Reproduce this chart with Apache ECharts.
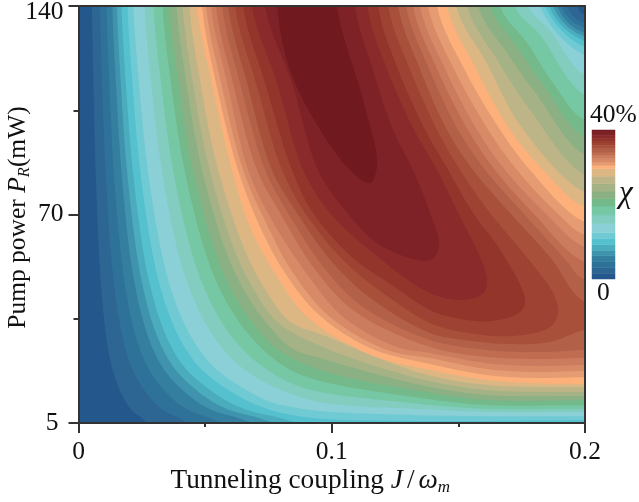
<!DOCTYPE html>
<html><head><meta charset="utf-8">
<style>html,body{margin:0;padding:0;background:#fff}#c{width:639px;height:502px}</style>
<script src="https://cdn.jsdelivr.net/npm/echarts@6/dist/echarts.min.js"></script>
</head><body><div id="c"></div>
<script>
const xTicks = {0: '0', 0.1: '0.1', 0.2: '0.2'};
const yTicks = {0: '{low|5}', 70: '70', 140: '{high|140}'};
const baseColor = '#24578c';
const bandColors = ['#24578c','#2d6593','#2f7299','#347f9f','#3f93ad','#4aacbd','#55c1cf','#6fcad3','#8bd0d6','#82cdc0','#76c8a5','#74b98a','#8ab083','#a5b285','#bdb588','#dcb683','#fdb07a','#e59c72','#d88a66','#cc7c5e','#bf6c51','#b26048','#a8503a','#9e4233','#94352b','#8a2a2a','#7f2227','#701a1f'];
const bandStarts = [0,1.5,3,4.6,6.2,7.7,9.2,10.8,12.4,14.8,17.2,19.6,21.6,23.6,25.6,27.6,29.6,30.5,31.4,32.3,33.2,34.1,35,35.9,36.8,37.7,38.6,39.5];
// iso-chi contours: [J/omega, pump power axis position]
const c1 = [[.0053,140],[.0059,114],[.0067,86],[.008,58],[.009,45],[.0102,34],[.0116,25],[.0134,18],[.0158,12],[.0187,7],[.0213,4],[.0245,2],[.0272,0],[.032,-3],[.036,-20],[.24,-20],[.24,137],[.2,137],[.1969,140]];
const c2 = [[.0085,140],[.0093,114],[.0106,86],[.0127,58],[.0143,45],[.0162,34],[.0185,25],[.0213,18],[.0252,12],[.0297,7],[.034,4],[.0391,2],[.0433,0],[.0509,-3],[.056,-20],[.24,-20],[.24,134.3],[.2,134.3],[.1929,140]];
const c3 = [[.0111,140],[.0122,114],[.0138,86],[.0166,58],[.0186,45],[.0211,34],[.0241,25],[.0278,18],[.0328,12],[.0387,7],[.0442,4],[.0509,2],[.0564,0],[.0664,-3],[.072,-20],[.24,-20],[.24,132.6],[.2,132.6],[.1906,140]];
const c4 = [[.0134,140],[.0148,114],[.0168,86],[.0201,58],[.0226,45],[.0256,34],[.0293,25],[.0337,18],[.0399,12],[.047,7],[.0537,4],[.0618,2],[.0685,0],[.0806,-3],[.088,-20],[.24,-20],[.24,130.9],[.2,130.9],[.189,140]];
const c5 = [[.0152,140],[.0167,114],[.019,86],[.0228,58],[.0256,45],[.029,34],[.0332,25],[.0382,18],[.0452,12],[.0532,7],[.0608,4],[.07,2],[.0776,0],[.0913,-3],[.1,-20],[.24,-20],[.24,129.6],[.2,129.6],[.1874,140]];
const c6 = [[.017,140],[.0187,114],[.0213,86],[.0255,58],[.0286,45],[.0324,34],[.037,25],[.0426,18],[.0505,12],[.0595,7],[.068,4],[.0782,2],[.0866,0],[.1019,-3],[.11,-20],[.24,-20],[.24,128.2],[.2,128.2],[.1858,140]];
const c7 = [[.0194,140],[.0213,114],[.0242,86],[.029,58],[.0325,45],[.0369,34],[.0422,25],[.0486,18],[.0575,12],[.0678,7],[.0774,4],[.0891,2],[.1,1.2],[.12,.8],[.16,.7],[.2,1],[.22,1],[.22,126.2],[.2,126.2],[.1843,140]];
const c8 = [[.0217,140],[.0239,114],[.0272,86],[.0326,58],[.0365,45],[.0414,34],[.0474,25],[.0545,18],[.0645,12],[.0761,7],[.0869,5],[.0954,4],[.127,2.8],[.1613,2.3],[.2,2.3],[.22,2.3],[.22,123.5],[.2,123.5],[.1823,140]];
const c9 = [[.0261,140],[.0287,114],[.0327,86],[.0391,58],[.0439,45],[.0498,34],[.0569,25],[.0655,18],[.0775,12],[.0954,7],[.1349,4.7],[.1613,3.7],[.2,3.7],[.22,3.7],[.22,116.8],[.2,116.8],[.1862,131.9],[.1776,140]];
const c10 = [[.0296,140],[.0326,114],[.0371,86],[.0444,58],[.0498,45],[.0564,34],[.0645,25],[.0743,18],[.085,13],[.0954,10.4],[.1349,6.4],[.1613,4.7],[.2,4.7],[.22,4.7],[.22,110.1],[.2,110.1],[.1823,130.3],[.1724,140]];
const c11 = [[.0332,140],[.0365,114],[.0416,86],[.0498,58],[.0558,45],[.0633,34],[.0724,25],[.0833,18],[.0954,14.1],[.1349,8.4],[.1613,6],[.2,6],[.22,6],[.22,101.7],[.2,101.7],[.1874,114.1],[.1772,127.6],[.1665,140]];
const c12 = [[.0359,140],[.0395,114],[.0449,86],[.0538,58],[.0603,45],[.0685,34],[.0783,25],[.0954,17.8],[.1349,10.7],[.1613,7.7],[.2,7.7],[.22,7.7],[.22,96],[.2,96],[.1843,112.5],[.1732,126.2],[.1625,140]];
const c13 = [[.0387,140],[.0426,114],[.0485,86],[.058,58],[.0651,45],[.0738,34],[.0844,25],[.0954,21.8],[.1349,12.8],[.1613,9.4],[.2,9.1],[.22,9.1],[.22,90],[.2,90],[.1811,110.1],[.1693,124.2],[.1578,140]];
const c14 = [[.0411,140],[.0452,114],[.0515,86],[.0616,58],[.0691,45],[.0784,34],[.0954,25.9],[.1349,14.8],[.1613,11.1],[.2,10.4],[.22,10.4],[.22,83.3],[.2,83.3],[.1783,105.1],[.1653,121.9],[.1535,140]];
const c15 = [[.0438,140],[.0482,114],[.0548,86],[.0657,58],[.0736,45],[.0835,34],[.0954,29.9],[.1349,16.8],[.1613,12.8],[.2,12.1],[.22,12.1],[.22,77.5],[.2,77.5],[.1744,100],[.161,121.2],[.1491,140]];
const c16 = [[.0468,140],[.0527,114.1],[.0606,85],[.0677,65.8],[.0768,51.4],[.0903,35.6],[.1151,23],[.1388,17.8],[.1613,14.4],[.1783,13.4],[.2,13.1],[.22,13.1],[.22,72.5],[.2,72.5],[.1835,84.9],[.1704,98.4],[.1566,119.5],[.1455,140]];
const c17 = [[.0488,140],[.0543,114.1],[.063,84.9],[.0717,65.8],[.0808,51.4],[.0942,36.9],[.1151,25.2],[.1388,19.8],[.1613,16.1],[.1803,15.1],[.2,15.4],[.22,15.4],[.22,67.5],[.2,67.5],[.1783,84.9],[.1665,98.4],[.1519,119.5],[.1416,140]];
const c18 = [[.0504,140],[.0563,114.1],[.065,84.9],[.0741,67.1],[.0847,50.4],[.0993,35.6],[.1219,24.5],[.1388,21.8],[.1613,18.1],[.1803,17.1],[.2,17.5],[.22,17.5],[.22,63.1],[.2,63.1],[.189,70.5],[.1732,84.9],[.1618,98.4],[.1479,119.5],[.138,140]];
const c19 = [[.0523,140],[.0587,114.1],[.067,84.9],[.0756,69.2],[.0887,51.8],[.1045,35.6],[.1258,25.5],[.1388,23.5],[.1613,20.1],[.1803,19.1],[.2,19.5],[.22,19.5],[.22,59.1],[.2,59.1],[.1843,70.5],[.1685,84.9],[.1574,98.4],[.1444,119.5],[.1349,140]];
const c20 = [[.0543,140],[.061,114.1],[.0705,84.9],[.0796,70.5],[.0926,52.5],[.1084,37.9],[.1388,25.5],[.1613,22.2],[.1803,21.5],[.2,21.8],[.22,21.8],[.22,54],[.2,54],[.1795,70.5],[.1645,84.9],[.1538,98.4],[.1412,119.5],[.1321,140]];
const c21 = [[.0567,140],[.0638,114.1],[.0737,84.9],[.0828,70.5],[.0966,52.5],[.1124,38.9],[.1388,27.9],[.1613,24.5],[.1803,23.8],[.2,24.5],[.22,24.5],[.22,48],[.2,48],[.1914,55.7],[.1756,70.5],[.1606,84.9],[.1499,98.4],[.1381,119.5],[.1294,140]];
const c22 = [[.0591,140],[.0666,114.1],[.0764,84.9],[.0863,70.5],[.1005,53.7],[.1163,41.3],[.1388,30.2],[.1519,27.9],[.1704,26.5],[.1862,27.2],[.2,31.2],[.22,31.2],[.22,40.6],[.2,40.6],[.1862,55.7],[.1704,70.5],[.1558,84.9],[.1455,98.4],[.1345,119.5],[.1262,140]];
const c23 = [[.0618,140],[.0701,114.1],[.0804,84.9],[.0895,70.5],[.1045,54.7],[.1203,43.6],[.1388,33.6],[.1519,30.5],[.1716,29.2],[.1862,32.2],[.1894,36.9],[.1874,43.6],[.1756,57.1],[.1625,70.5],[.1507,84.9],[.1416,98.4],[.1305,119.5],[.1223,140]];
const c24 = [[.065,140],[.0737,114.1],[.0843,84.9],[.0926,70.5],[.1084,55.4],[.123,46.7],[.1388,37.9],[.1467,35.6],[.1625,34.2],[.1744,37.3],[.1764,41.3],[.1665,58.1],[.1558,70.5],[.146,84.9],[.1369,98.4],[.1258,119.5],[.1183,140]];
const c25 = [[.0685,140],[.0784,114.1],[.0887,84.9],[.0993,70.5],[.1163,57.1],[.1388,43.6],[.1519,41.3],[.1598,43.6],[.1613,48],[.1586,55.7],[.1507,69.2],[.1416,84.9],[.1325,98.4],[.1215,119.5],[.114,140]];
const c26 = [[.0737,140],[.0843,114.1],[.0946,84.9],[.1061,70.5],[.1203,59.1],[.1388,54.7],[.1424,59.1],[.1388,70.5],[.1321,84.9],[.1242,98.4],[.1159,119.5],[.1092,140]];
const c27 = [[.0784,140],[.0835,118.5],[.0954,98.4],[.1072,84.9],[.1151,80.6],[.1179,86.6],[.1124,108.4],[.1021,140]];
const contours = [c1,c2,c3,c4,c5,c6,c7,c8,c9,c10,c11,c12,c13,c14,c15,c16,c17,c18,c19,c20,c21,c22,c23,c24,c25,c26,c27];

// closed centripetal Catmull-Rom outline through the mapped contour points
function outline(P){
  const n=P.length, out=[], d=(a,b)=>Math.max(1e-3,Math.pow(Math.hypot(a[0]-b[0],a[1]-b[1]),0.5));
  for(let i=0;i<n;i++){
    const p0=P[(i-1+n)%n],p1=P[i],p2=P[(i+1)%n],p3=P[(i+2)%n];
    const t0=0,t1=t0+d(p0,p1),t2=t1+d(p1,p2),t3=t2+d(p2,p3);
    for(let k=0;k<14;k++){
      const t=t1+(t2-t1)*k/14, q=[0,1].map(j=>{
        const A1=(t1-t)/(t1-t0)*p0[j]+(t-t0)/(t1-t0)*p1[j];
        const A2=(t2-t)/(t2-t1)*p1[j]+(t-t1)/(t2-t1)*p2[j];
        const A3=(t3-t)/(t3-t2)*p2[j]+(t-t2)/(t3-t2)*p3[j];
        const B1=(t2-t)/(t2-t0)*A1+(t-t0)/(t2-t0)*A2;
        const B2=(t3-t)/(t3-t1)*A2+(t-t1)/(t3-t1)*A3;
        return (t2-t)/(t2-t1)*B1+(t-t1)/(t2-t1)*B2;
      });
      out.push(q);
    }
  }
  return out;
}

const serif = '"Liberation Serif","Times New Roman",serif';
const ink = '#333';
const tx = '#111';
const richFor = (size,sub)=>({t:{fontFamily:serif,fontSize:size,color:tx},i:{fontFamily:serif,fontSize:size,fontStyle:'italic',color:tx},g:{fontFamily:serif,fontSize:size,color:tx,padding:[0,4,0,4]},s:{fontFamily:serif,fontSize:sub,fontStyle:'italic',color:tx,verticalAlign:'bottom',padding:[13,0,0,0]}});
const edge = {show:true,onZero:false,lineStyle:{color:ink,width:2}};
const chart = echarts.init(document.getElementById('c'), null, {renderer:'canvas'});
chart.setOption({
  animation:false,
  backgroundColor:'#fff',
  grid:[
    {left:78.5, right:54, top:6, bottom:79, show:true, backgroundColor:baseColor, borderWidth:0, outerBoundsMode:'none', containLabel:false},
    {left:592, width:23, top:130, height:149, show:false, outerBoundsMode:'none', containLabel:false}
  ],
  xAxis:[
    {type:'value', gridIndex:0, min:0, max:0.2, interval:0.1, position:'bottom', z:5,
     axisLine:edge,
     axisTick:{show:true,length:10,lineStyle:{color:ink,width:2}},
     minorTick:{show:true,splitNumber:2,length:4,lineStyle:{color:ink,width:2}},
     splitLine:{show:false},
     axisLabel:{margin:16,fontFamily:serif,fontSize:25.5,color:tx,formatter:v=>xTicks[+v.toFixed(2)]||''},
     name:'{t|Tunneling coupling }{i|J}{g|/}{i|ω}{s|m}', nameLocation:'middle', nameGap:43, nameMoveOverlap:false,
     nameTextStyle:{rich:richFor(27.3,17),padding:[0,43,0,0]}},
    {type:'value',gridIndex:0,min:0,max:0.2,position:'top',axisLine:edge,axisTick:{show:false},axisLabel:{show:false},splitLine:{show:false},z:5},
    {type:'category',gridIndex:1,data:[''],show:false}
  ],
  yAxis:[
    {type:'value', gridIndex:0, min:0, max:140, interval:70, position:'left', z:5,
     axisLine:edge,
     axisTick:{show:true,length:10,lineStyle:{color:ink,width:2}},
     minorTick:{show:true,splitNumber:2,length:5,lineStyle:{color:ink,width:2}},
     splitLine:{show:false},
     axisLabel:{margin:15,fontFamily:serif,fontSize:25.5,color:tx,formatter:v=>yTicks[v]||'',
       rich:{low:{fontFamily:serif,fontSize:25.5,color:tx,padding:[0,5,0,0]},high:{fontFamily:serif,fontSize:25.5,color:tx,padding:[13,0,0,0]}}},
     name:'{t|Pump power }{i|P}{s|R}{t|(mW)}', nameLocation:'middle', nameRotate:90, nameGap:45, nameMoveOverlap:false,
     nameTextStyle:{rich:richFor(25.5,16.5),padding:[0,6,0,0]}},
    {type:'value',gridIndex:0,min:0,max:140,position:'right',axisLine:edge,axisTick:{show:false},axisLabel:{show:false},splitLine:{show:false},z:5},
    {type:'value',gridIndex:1,min:0,max:40,show:false}
  ],
  series:[
    {type:'custom', coordinateSystem:'cartesian2d', xAxisIndex:0, yAxisIndex:0, clip:true, silent:true,
     data:contours.map((c,i)=>[0,0,i]),
     encode:{x:0,y:1},
     renderItem:function(params,api){
       const i=api.value(2), c=contours[i];
       const pts=[[c[0][0],175]].concat(c,[[c[c.length-1][0],175]]).map(p=>api.coord(p));
       return {type:'polygon',shape:{points:outline(pts)},style:{fill:bandColors[i+1],stroke:null}};
     }},
    {type:'custom', coordinateSystem:'cartesian2d', xAxisIndex:2, yAxisIndex:2, silent:true,
     data:bandStarts.map((s,i)=>[0,s,i]),
     encode:{x:0,y:1},
     renderItem:function(params,api){
       const i=api.value(2), lo=bandStarts[i], hi=i+1<bandStarts.length?bandStarts[i+1]:40;
       const a=api.coord([0,lo]), b=api.coord([0,hi]), w=api.size([1,0])[0];
       return {type:'rect',shape:{x:a[0]-w/2,y:b[1],width:w,height:a[1]-b[1]},style:{fill:bandColors[i],stroke:bandColors[i],lineWidth:0.5}};
     }}
  ],
  graphic:[
    {type:'text',left:590,top:102,style:{text:'40%',font:'25.5px '+serif,fill:tx}},
    {type:'text',left:597,top:280,style:{text:'0',font:'25.5px '+serif,fill:tx}},
    {type:'text',left:619,top:178,style:{text:'χ',font:'italic 31px '+serif,fill:tx}}
  ]
});
</script></body></html>
